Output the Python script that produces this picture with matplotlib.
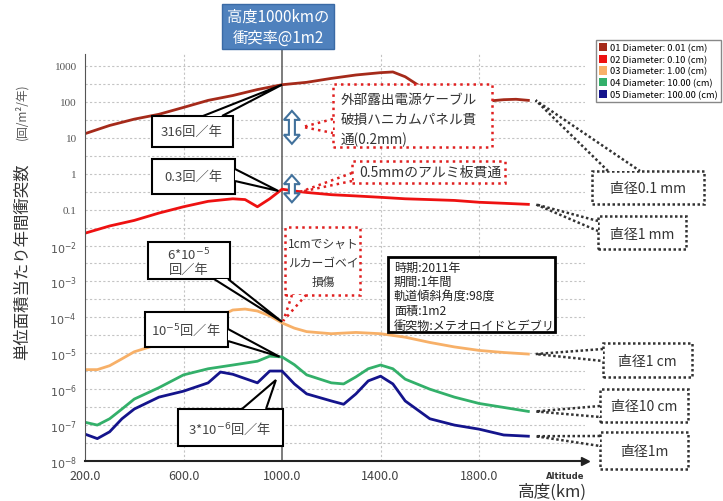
import matplotlib.pyplot as plt
from matplotlib.patches import Rectangle, Polygon, Patch

plt.rcParams['font.family'] = ['Noto Sans CJK JP', 'DejaVu Sans']
plt.rcParams['mathtext.fontset'] = 'dejavusans'

# altitude (km) vs. impacts per m2 per year
alt_a = [200, 300, 400, 500, 600, 700, 800, 900, 1000, 1100, 1200, 1300, 1400, 1450,
         1500, 1550, 1600, 1700, 1800, 1850, 1900, 1950, 2000]
d_001 = [13, 22, 33, 45, 70, 110, 150, 220, 300, 350, 450, 560, 650, 680,
         500, 300, 200, 140, 115, 107, 115, 118, 110]

alt_b = [200, 300, 400, 500, 600, 700, 800, 850, 900, 950, 1000, 1050, 1100, 1200,
         1300, 1400, 1500, 1600, 1700, 1800, 1900, 2000]
d_010 = [0.022, 0.035, 0.05, 0.08, 0.12, 0.17, 0.2, 0.19, 0.12, 0.2, 0.37, 0.33, 0.3, 0.26,
         0.24, 0.22, 0.2, 0.19, 0.18, 0.16, 0.15, 0.14]

alt_c = [200, 250, 300, 350, 400, 500, 600, 700, 750, 800, 850, 900, 950, 1000, 1050,
         1100, 1200, 1300, 1400, 1500, 1600, 1700, 1800, 1900, 2000]
d_1 = [3.5e-6, 3.5e-6, 4.5e-6, 7e-6, 1.1e-5, 1.8e-5, 3e-5, 6e-5, 1.1e-4, 1.6e-4, 1.7e-4,
       1.5e-4, 1.1e-4, 7e-5, 5e-5, 4e-5, 3.5e-5, 3.8e-5, 3.5e-5, 2.8e-5, 2e-5, 1.5e-5,
       1.2e-5, 1.05e-5, 9.5e-6]

alt_d = [200, 250, 300, 350, 400, 500, 600, 700, 800, 900, 950, 1000, 1050, 1100, 1200,
         1250, 1300, 1350, 1400, 1450, 1500, 1600, 1700, 1800, 1900, 2000]
d_10 = [1.2e-7, 1.0e-7, 1.5e-7, 2.8e-7, 5.3e-7, 1.1e-6, 2.5e-6, 3.7e-6, 4.7e-6, 6e-6, 8.3e-6,
        7.9e-6, 4.8e-6, 2.5e-6, 1.5e-6, 1.4e-6, 2.2e-6, 3.7e-6, 4.7e-6, 3.7e-6, 1.9e-6,
        1.0e-6, 6e-7, 4e-7, 3.1e-7, 2.4e-7]

alt_e = [200, 250, 300, 350, 400, 500, 600, 700, 750, 800, 900, 950, 1000, 1050, 1100,
         1200, 1250, 1300, 1350, 1400, 1450, 1500, 1600, 1700, 1800, 1900, 2000]
d_100 = [5.6e-8, 4.2e-8, 6.5e-8, 1.5e-7, 2.8e-7, 6e-7, 8.8e-7, 1.5e-6, 3e-6, 2.6e-6, 1.5e-6,
         3.2e-6, 3.2e-6, 1.4e-6, 7.4e-7, 4.7e-7, 3.8e-7, 7.4e-7, 1.7e-6, 2.3e-6, 1.4e-6,
         4.7e-7, 1.5e-7, 1.0e-7, 7.7e-8, 5.3e-8, 4.9e-8]

labels = ["01 Diameter: 0.01 (cm)", "02 Diameter: 0.10 (cm)", "03 Diameter: 1.00 (cm)",
          "04 Diameter: 10.00 (cm)", "05 Diameter: 100.00 (cm)"]
colors = ["#a52a1a", "#ee1111", "#f7b068", "#33b06a", "#14148c"]

yticks = [1e3, 1e2, 1e1, 1, 0.1, 1e-2, 1e-3, 1e-4, 1e-5, 1e-6, 1e-7, 1e-8]
yticklabels = ["1000", "100", "10", "1", "0.1"] + [r"$10^{-%d}$" % k for k in range(2, 9)]
xticks = [200, 600, 1000, 1400, 1800]

W, H = 723, 502
fig = plt.figure(figsize=(W / 100, H / 100), dpi=100)
ax = fig.add_axes([85 / W, 1 - 462 / H, 500 / W, 407 / H])
ax.set_yscale('log')
ax.set_xlim(200, 2230)
ax.set_ylim(1e-8, 2150)

for k in range(-16, 7):
    ax.axhline(10 ** (k / 2), color='#c4c4c4', lw=0.8, ls=(0, (2, 2)), zorder=0)
for x in [600, 1400, 1800]:
    ax.axvline(x, color='#c4c4c4', lw=0.8, ls=(0, (2, 2)), zorder=0)
ax.axvline(1000, ymax=1.012, color='#666666', lw=1.2, clip_on=False, zorder=1)

for a, d, c in zip([alt_a, alt_b, alt_c, alt_d, alt_e], [d_001, d_010, d_1, d_10, d_100], colors):
    ax.plot(a, d, color=c, lw=2, zorder=2)

ax.spines['top'].set_visible(False)
ax.spines['right'].set_visible(False)
ax.spines['left'].set_color('#555555')
ax.spines['bottom'].set_color('#222222')
ax.spines['bottom'].set_linewidth(1.5)
ax.plot(1, 0, '>', color='#222222', ms=6, transform=ax.transAxes, clip_on=False)

ax.set_yticks(yticks)
ax.set_yticklabels(yticklabels, fontsize=8, color='#555555', family='Liberation Serif')
ax.minorticks_off()
ax.set_xticks(xticks)
ax.set_xticklabels(["%.1f" % x for x in xticks], fontsize=9, color='#444444')
ax.tick_params(length=0, pad=6)

fig.text(22 / W, 1 - 262 / H, "単位面積当たり年間衝突数", rotation=90, fontsize=11.8,
         color='#333333', ha='center', va='center')
fig.text(22 / W, 1 - 112 / H, "(回/m²/年)", rotation=90, fontsize=8.5,
         color='#555555', ha='center', va='center')
fig.text(565 / W, 1 - 477 / H, "Altitude", fontsize=6, weight='bold', color='#333333',
         ha='center', va='center', family='DejaVu Sans')
fig.text(552 / W, 1 - 492 / H, "高度(km)", fontsize=12, color='#333333', ha='center', va='center')


def P(px, py):
    return (px / W, 1 - py / H)


def D(x, y):
    return tuple(fig.transFigure.inverted().transform(ax.transData.transform((x, y))))


def box(x0, y0, x1, y1, ec='black', ls='-', lw=1.5):
    fig.add_artist(Rectangle(P(x0, y1), (x1 - x0) / W, (y1 - y0) / H, transform=fig.transFigure,
                             fc='white', ec=ec, ls=ls, lw=lw, zorder=5))


def wedge(b1, b2, tip, ec='black', ls='-', lw=1.5):
    fig.add_artist(Polygon([P(*b1), D(*tip), P(*b2)], closed=False, transform=fig.transFigure,
                           fc='white', ec=ec, ls=ls, lw=lw, zorder=6))


def label(px, py, s, size=9.5, ha='center', color='#444444', **kw):
    fig.text(px / W, 1 - py / H, s, fontsize=size, ha=ha, va='center', color=color, zorder=7, **kw)


def double_arrow(x, ytop, ybot):
    cx, t = D(x, ytop)
    _, b = D(x, ybot)
    hw, sw, hl = 8 / W, 3 / W, 9 / H
    pts = [(cx, t), (cx + hw, t - hl), (cx + sw, t - hl), (cx + sw, b + hl), (cx + hw, b + hl),
           (cx, b), (cx - hw, b + hl), (cx - sw, b + hl), (cx - sw, t - hl), (cx - hw, t - hl)]
    fig.add_artist(Polygon(pts, closed=True, transform=fig.transFigure, fc='white',
                           ec='#41719c', lw=1.5, zorder=6))


# title box
fig.add_artist(Rectangle(P(222, 50), 112 / W, 45 / H, transform=fig.transFigure,
                         fc='#4f81bd', ec='#3a6aa5', lw=1, zorder=5))
label(278, 17, "高度1000kmの", size=11, color='white')
label(278, 38, "衝突率@1m2", size=11, color='white')

# black callouts
box(152, 117, 233, 148)
wedge((203, 117), (222, 117), (1000, 300))
label(192, 132, "316回／年")

box(152, 160, 235, 195)
wedge((235, 170), (235, 182), (985, 0.33))
label(193, 177, "0.3回／年")

box(148, 243, 230, 280)
wedge((214, 280), (228, 280), (1000, 7.5e-5))
label(189, 255, "6*10$^{-5}$")
label(189, 270, "回／年")

box(145, 313, 228, 348)
wedge((228, 330), (228, 342), (990, 8e-6))
label(186, 330, "10$^{-5}$回／年")

box(178, 410, 283, 447)
wedge((242, 410), (266, 410), (975, 1.8e-6))
label(230, 429, "3*10$^{-6}$回／年")

# red dotted callouts
red = '#e02020'
double_arrow(1040, 56, 6.8)
double_arrow(1040, 0.91, 0.16)

box(333, 85, 492, 148, ec=red, ls=':', lw=1.8)
wedge((333, 120), (333, 134), (1085, 20), ec=red, ls=':', lw=1.8)
for i, s in enumerate(["外部露出電源ケーブル", "破損ハニカムパネル貫", "通(0.2mm)"]):
    label(341, 100 + 20 * i, s, size=9.8, ha='left', color='#333333')

box(352, 162, 505, 184, ec=red, ls=':', lw=1.8)
wedge((352, 174), (352, 182), (1073, 0.31), ec=red, ls=':', lw=1.8)
label(430, 173, "0.5mmのアルミ板貫通", size=10, color='#333333')

box(285, 228, 360, 296, ec=red, ls=':', lw=1.8)
wedge((292, 296), (306, 296), (1005, 8e-5), ec=red, ls=':', lw=1.8)
for i, s in enumerate(["1cmでシャト", "ルカーゴベイ", "損傷"]):
    label(323, 244 + 19 * i, s, size=8.5, color='#333333')

# info box
box(388, 258, 555, 333, lw=2)
for i, s in enumerate(["時期:2011年", "期間:1年間", "軌道傾斜角度:98度", "面積:1m2",
                       "衝突物:メテオロイドとデブリ"]):
    label(394, 268 + 14.5 * i, s, size=8.7, ha='left', color='#222222')

# right-side diameter boxes
dot = (0, (1, 1))
right = [("直径0.1 mm", (592, 172, 704, 205), (608, 172), (640, 172), d_001[-1]),
         ("直径1 mm", (598, 217, 686, 250), (598, 222), (598, 232), d_010[-1]),
         ("直径1 cm", (603, 344, 692, 378), (603, 350), (603, 362), d_1[-1]),
         ("直径10 cm", (600, 390, 688, 423), (600, 407), (600, 418), d_10[-1]),
         ("直径1m", (600, 433, 688, 470), (600, 437), (600, 447), d_100[-1])]
for s, (x0, y0, x1, y1), b1, b2, v in right:
    box(x0, y0, x1, y1, ec='#333333', ls=dot, lw=1.8)
    wedge(b1, b2, (2030, v), ec='#333333', ls=dot, lw=1.8)
    label((x0 + x1) / 2, (y0 + y1) / 2 + 1, s, size=10, color='#333333')

handles = [Patch(fc=c, ec='none') for c in colors]
fig.legend(handles, labels, loc='upper left', bbox_to_anchor=P(591, 36), fontsize=6.7,
           handlelength=0.9, handleheight=1.0, handletextpad=0.3, labelspacing=0.25,
           borderpad=0.35, fancybox=False, edgecolor='#888888', framealpha=1)

fig.savefig('out.png', dpi=100)
